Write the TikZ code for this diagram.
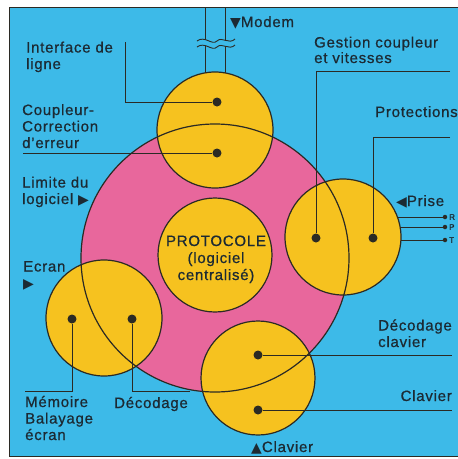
\documentclass[tikz,border=0pt]{standalone}
\usepackage{fontspec}
\setmainfont{Liberation Sans}[LetterSpace=5,FakeBold=0.7]
\newfontfamily\symfont{DejaVu Sans}
\definecolor{bgblue}{HTML}{3DBAE8}
\definecolor{pinkc}{HTML}{E8679C}
\definecolor{yel}{HTML}{F6C21F}
\definecolor{ink}{HTML}{2B2A24}
\definecolor{txt}{HTML}{1C2A33}
\newcommand{\tri}[1]{{\symfont\fontsize{14}{14}\selectfont #1}}
\begin{document}
\begin{tikzpicture}[x=1pt,y=-1pt,
  yc/.style={circle,fill=yel,draw=ink,line width=1.2pt,inner sep=0pt,minimum size=116pt},
  dotn/.style={circle,fill=ink,inner sep=0pt,minimum size=9pt},
  smalldot/.style={circle,fill=ink,inner sep=0pt,minimum size=4.5pt},
  lead/.style={draw=ink,line width=1pt},
  lbl/.style={text=txt,font=\fontsize{15}{16.5}\selectfont,inner sep=0pt,align=left,anchor=base west},
]
\useasboundingbox (0,0) rectangle (458,459);
\fill[white] (0,0) rectangle (458,459);
% blue panel
\fill[bgblue] (9,7) rectangle (458,456);
\draw[ink,line width=1pt] (458,7) -- (9,7) -- (9,456) -- (458,456);

% modem line pair
\coordinate (mt1) at (205,7); \coordinate (mb1) at (205,85);
\coordinate (mt2) at (225,7); \coordinate (mb2) at (225,85);
\draw[lead] (mt1) -- (mb1);
\draw[lead] (mt2) -- (mb2);

% Prise lines
\node[smalldot] (r1) at (445,217) {};
\node[smalldot] (r2) at (445,227) {};
\node[smalldot] (r3) at (445,240) {};
\coordinate (ri1) at (370,217);
\coordinate (ri2) at (370,227);
\coordinate (ri3) at (370,240);
\draw[lead] (ri1) -- (r1);
\draw[lead] (ri2) -- (r2);
\draw[lead] (ri3) -- (r3);

% pink software boundary
\node[circle,fill=pinkc,inner sep=0pt,minimum size=268pt] (pink) at (215,258) {};

% yellow circles
\node[yc] (top) at (215,130) {};
\node[yc] (right) at (343,237) {};
\node[yc,minimum size=114pt] (bright) at (258,378) {};
\node[yc] (bleft) at (104,318) {};
\node[yc,minimum size=114pt] (proto) at (215,255) {};

% pink outline on top
\draw[ink,line width=1.2pt] (pink.center) circle[radius=134pt];

% dots
\node[dotn] (d1) at (217,102) {};
\node[dotn] (d2) at (217,153) {};
\node[dotn] (d3) at (316,238) {};
\node[dotn] (d4) at (373,238) {};
\node[dotn] (d5) at (258,355) {};
\node[dotn] (d6) at (258,410) {};
\node[dotn] (d7) at (72,319) {};
\node[dotn] (d8) at (132,319) {};

% leaders
\coordinate (c1) at (125,42);
\coordinate (c2) at (23,153);
\coordinate (g1) at (450,71);
\coordinate (p1) at (450,137);
\coordinate (k1) at (452,355);
\coordinate (k2) at (452,410);
\coordinate (m1) at (25,391);
\coordinate (m2) at (190,391);
\draw[lead] (c1) |- (d1);
\draw[lead] (c2) -- (d2);
\draw[lead] (g1) -| (d3);
\draw[lead] (p1) -| (d4);
\draw[lead] (d5) -- (k1);
\draw[lead] (d6) -- (k2);
\draw[lead] (m1) -| (d7);
\draw[lead] (m2) -| (d8);

% wavy break on modem line
\fill[bgblue] (197,41) .. controls (205,35) and (212,46) .. (217,41) .. controls (222,36) and (229,45) .. (235,39)
  -- (235,45) .. controls (229,51) and (222,42) .. (217,47) .. controls (212,52) and (205,41) .. (197,47) -- cycle;
\draw[ink,line width=0.9pt] (197,41) .. controls (205,35) and (212,46) .. (217,41) .. controls (222,36) and (229,45) .. (235,39);
\draw[ink,line width=0.9pt] (197,47) .. controls (205,41) and (212,52) .. (217,47) .. controls (222,42) and (229,51) .. (235,45);

% labels (base anchor = baseline of last line)
\node[lbl] (tmodem) at (230,27) {\tri{▼}Modem};
\node[lbl] (tinter) at (26,69) {Interface de\\ligne};
\node[lbl] (tcoup) at (22,148) {Coupleur-\\Correction\\d'erreur};
\node[lbl] (tlim) at (22,204) {Limite du\\logiciel \tri{▶}};
\node[lbl] (tecran) at (23,288) {Ecran\\\tri{▶}};
\node[lbl,font=\fontsize{15}{15.5}\selectfont] (tgest) at (314,63) {Gestion coupleur\\et vitesses};
\node[lbl] (tprot) at (375,117) {Protections};
\node[lbl] (tprise) at (396,206) {\tri{◀}Prise};
\node[lbl] (tdecc) at (378,347) {Décodage\\clavier};
\node[lbl,anchor=base east] (tclav) at (452,401) {Clavier};
\node[lbl] (tclav2) at (251,452) {\tri{▲}Clavier};
\node[lbl] (tmem) at (25,440) {Mémoire\\Balayage\\écran};
\node[lbl] (tdec) at (114,408) {Décodage};
\node[lbl,anchor=base,align=center,font=\fontsize{15}{17}\selectfont] (tproto) at (216,280) {PROTOCOLE\\(logiciel\\centralisé)};
\node[text=txt,font=\fontsize{8}{8}\selectfont,inner sep=0pt,anchor=west] (tr) at (449,217) {R};
\node[text=txt,font=\fontsize{8}{8}\selectfont,inner sep=0pt,anchor=west] (tp) at (449,227) {P};
\node[text=txt,font=\fontsize{8}{8}\selectfont,inner sep=0pt,anchor=west] (tt) at (449,240) {T};
\end{tikzpicture}
\end{document}
